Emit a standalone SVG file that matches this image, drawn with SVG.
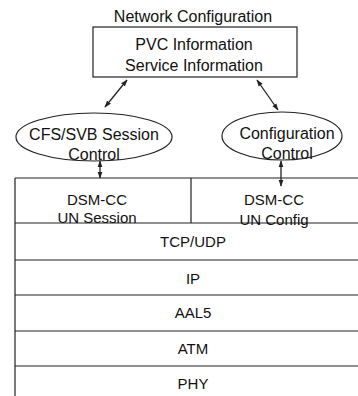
<svg xmlns="http://www.w3.org/2000/svg" width="358" height="396" viewBox="0 0 358 396">
  <style>
    .txt { font-family: "Liberation Sans", Arial, sans-serif; font-size: 16px; fill: #111; text-anchor: middle; }
    .lyr { font-size: 15px; }
    .shape { fill: #fff; stroke: #222; stroke-width: 1.2; }
    .rule { stroke: #222; stroke-width: 1.2; fill: none; }
    .link { stroke: #222; stroke-width: 1.3; fill: none; marker-start: url(#head); marker-end: url(#head); }
  </style>
  <defs>
    <marker id="head" viewBox="0 0 10 10" refX="9" refY="5" markerWidth="7" markerHeight="7" orient="auto-start-reverse" markerUnits="userSpaceOnUse">
      <path d="M0,1.5 L10,5 L0,8.5 z" fill="#222"/>
    </marker>
  </defs>
  <rect width="358" height="396" fill="#fff"/>

  <!-- top-level configuration store -->
  <g id="network-config">
    <text class="txt" x="193" y="22">Network Configuration</text>
    <rect class="shape" x="93" y="27" width="204" height="50"/>
    <text class="txt" x="194" y="50">PVC Information</text>
    <text class="txt" x="194" y="71">Service Information</text>
  </g>

  <!-- control entities -->
  <g id="session-control">
    <ellipse class="shape" cx="94" cy="137" rx="78" ry="24"/>
    <text class="txt" x="94" y="140">CFS/SVB Session</text>
    <text class="txt" x="94" y="160">Control</text>
  </g>
  <g id="config-control">
    <ellipse class="shape" cx="282" cy="136" rx="60" ry="24"/>
    <text class="txt" x="287" y="139">Configuration</text>
    <text class="txt" x="287" y="159">Control</text>
  </g>

  <!-- protocol stack -->
  <g id="stack">
    <path class="rule" d="M15,178 V396 M15,178 H358 M191,178 V223 M15,223 H358 M15,260 H358 M15,295 H358 M15,331 H358 M15,366 H358"/>
  </g>
  <g id="dsmcc-session">
    <text class="txt lyr" x="97" y="205">DSM-CC</text>
    <text class="txt lyr" x="97" y="223">UN Session</text>
  </g>
  <g id="dsmcc-config">
    <text class="txt lyr" x="274" y="205">DSM-CC</text>
    <text class="txt lyr" x="274" y="225">UN Config</text>
  </g>
  <g id="tcp-udp"><text class="txt lyr" x="193" y="247">TCP/UDP</text></g>
  <g id="ip"><text class="txt lyr" x="193" y="284">IP</text></g>
  <g id="aal5"><text class="txt lyr" x="193" y="318">AAL5</text></g>
  <g id="atm"><text class="txt lyr" x="193" y="354">ATM</text></g>
  <g id="phy"><text class="txt lyr" x="193" y="389">PHY</text></g>

  <!-- bidirectional connectors -->
  <g id="connectors">
    <line class="link" x1="127" y1="80" x2="105" y2="107"/>
    <line class="link" x1="257" y1="80" x2="278" y2="110"/>
    <line class="link" x1="100" y1="161" x2="100" y2="178"/>
    <line class="link" x1="281" y1="161" x2="281" y2="186"/>
  </g>
</svg>
